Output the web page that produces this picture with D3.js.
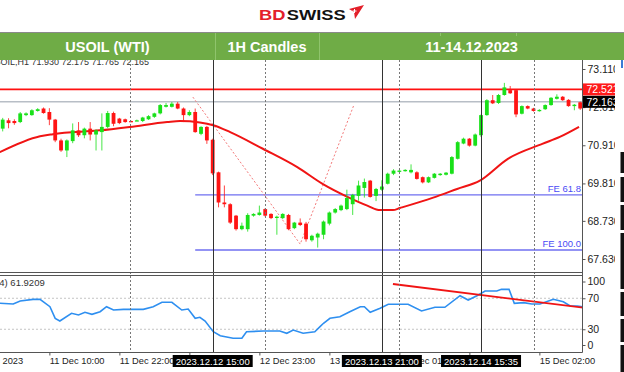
<!DOCTYPE html>
<html>
<head>
<meta charset="utf-8">
<script src="https://cdn.jsdelivr.net/npm/d3@7"></script>
<style>
  body { margin: 0; background: #fff; }
  svg { display: block; font-family: "Liberation Sans", Arial, sans-serif; }
</style>
</head>
<body>
<script>
/* Datos de velas (1H), indice 1..100 */
const open  = [71.39,71.63,71.61,71.58,71.78,71.78,71.90,71.97,71.87,71.65,71.05,70.76,71.03,71.34,71.20,71.39,71.22,71.29,71.44,71.84,
               71.68,71.66,71.61,71.62,71.61,71.66,71.73,71.83,72.02,72.02,72.11,71.97,71.78,71.87,71.24,71.44,71.07,70.13,69.26,69.21,
               68.88,68.49,68.49,68.88,68.90,69.07,68.93,68.82,68.81,68.90,68.52,68.68,68.65,68.17,68.25,68.33,68.65,68.97,69.04,69.07,
               69.21,69.45,69.68,69.89,69.45,69.63,69.80,70.09,70.15,70.17,70.13,70.13,69.99,69.84,69.97,70.05,70.06,70.09,70.52,70.96,
               71.10,70.90,71.20,71.78,72.21,72.13,72.36,72.50,72.50,71.82,72.04,71.97,71.90,71.95,72.07,72.25,72.31,72.22,72.04,72.15];
const high  = [71.70,71.69,71.66,71.87,71.86,71.95,71.98,72.00,71.98,71.67,71.10,71.08,71.54,71.58,71.42,71.58,71.37,71.83,71.90,71.88,
               71.70,71.68,71.62,71.65,71.73,71.78,71.85,72.10,72.13,72.16,72.16,72.00,71.92,71.97,71.46,71.47,71.10,70.15,69.75,69.24,
               68.90,68.68,68.95,68.95,69.17,69.10,68.95,68.88,68.95,68.93,68.70,68.80,68.70,68.33,68.39,68.74,69.00,69.10,69.20,69.63,
               69.51,69.89,69.95,69.91,69.68,69.90,70.12,70.22,70.20,70.22,70.36,70.16,70.01,70.01,70.11,70.11,70.14,70.60,71.03,71.13,
               71.12,71.25,71.80,72.24,72.36,72.39,72.71,72.62,72.52,72.06,72.06,71.99,71.95,72.09,72.30,72.38,72.33,72.24,72.10,72.17];
const low   = [71.31,71.40,71.50,71.55,71.75,71.76,71.88,71.82,71.49,71.00,70.72,70.57,70.97,71.15,71.11,71.05,70.76,70.76,71.40,71.46,
               71.52,71.56,71.58,71.61,71.58,71.64,71.70,71.80,72.00,72.00,71.95,71.58,71.75,71.27,71.20,70.95,70.05,69.12,69.12,68.64,
               68.45,68.46,68.42,68.85,68.88,68.85,68.78,68.33,68.78,68.46,68.49,68.58,68.13,68.13,67.96,68.20,68.60,68.94,69.01,69.04,
               68.90,69.31,69.40,69.40,69.30,69.60,69.78,70.05,70.12,70.15,70.10,69.92,69.81,69.82,69.95,70.03,70.04,70.07,70.50,70.94,
               70.87,70.88,71.15,71.76,72.10,72.10,72.34,72.39,71.72,71.80,71.95,71.88,71.88,71.93,72.05,72.23,72.19,72.02,71.92,71.93];
const close = [71.65,71.55,71.55,71.83,71.83,71.92,71.95,71.84,71.65,71.05,70.76,71.05,71.34,71.20,71.39,71.22,71.34,71.44,71.84,71.53,
               71.55,71.58,71.60,71.63,71.71,71.75,71.83,72.07,72.07,72.11,71.97,71.78,71.87,71.29,71.44,71.05,70.10,69.26,69.21,68.68,
               68.49,68.59,68.90,68.93,68.97,68.88,68.81,68.85,68.93,68.49,68.68,68.61,68.20,68.30,68.36,68.71,68.97,69.07,69.17,69.39,
               69.48,69.75,69.85,69.42,69.65,69.72,70.09,70.18,70.18,70.20,70.20,69.94,69.84,69.99,70.09,70.09,70.12,70.57,71.00,71.10,
               70.90,71.22,71.78,72.21,72.12,72.36,72.58,72.41,71.80,72.04,71.97,71.90,71.93,72.07,72.28,72.31,72.21,72.04,72.08,71.97];

/* Media movil */
const maIdx = [0.5, 7.4, 9.6, 17.7, 22.8, 29.2, 31.4, 34.8, 37.1, 40, 45.6, 51.5, 55.9, 60, 63.5, 65.7, 67.9, 69.1, 74.8, 78.9, 82.8, 87.6, 93.5, 96.5, 99.8];
const maVal = [70.71, 71.17, 71.23, 71.34, 71.44, 71.58, 71.61, 71.57, 71.49, 71.29, 70.81, 70.28, 69.79, 69.43, 69.17, 69.04, 69.04, 69.10, 69.40, 69.65, 69.89, 70.52, 70.95, 71.15, 71.44];

/* Oscilador (RSI 14) */
const rsiIdx = [0.5, 2.8, 4.0, 6.2, 7.4, 9.1, 10.0, 10.8, 12.8, 14.0, 15.1, 16.3, 17.7, 18.8, 20.0, 21.7, 25.1, 26.8, 28.3, 30.0,
                31.7, 32.8, 34.0, 34.8, 35.7, 37.1, 38.3, 40.5, 42.0, 42.8, 45.7, 48.5, 49.7, 50.8, 52.5, 54.5, 55.4, 56.0, 57.1, 58.8,
                60.5, 62.3, 63.0, 64.0, 65.7, 67.1, 70.5, 72.8, 75.1, 76.8, 79.4, 80.8, 82.3, 83.7, 85.7, 86.5, 87.8, 88.7, 90.3, 91.7,
                93.1, 95.4, 97.1, 98.3, 99.5, 100.6];
const rsiVal = [63.5, 62.6, 66.5, 68.6, 68.6, 59.1, 44.1, 40.6, 50.6, 48.4, 51.9, 49.3, 52.6, 59.1, 54.8, 55.7, 55.7, 59.1, 64.8, 64.8,
                54.8, 56.1, 44.1, 45.4, 40.6, 26.8, 21.7, 18.3, 18.3, 26.8, 27.7, 27.7, 24.8, 29.0, 24.8, 26.8, 33.3, 37.7, 44.1, 46.2,
                52.6, 59.1, 59.1, 51.9, 57.0, 62.2, 62.2, 53.6, 58.3, 58.3, 73.3, 67.7, 73.3, 79.4, 79.4, 81.5, 81.5, 63.5, 64.3, 62.6,
                62.6, 68.6, 65.5, 60.0, 60.0, 59.0];
const rsiTrendIdx = [67.9, 100.6];
const rsiTrendVal = [88.4, 57.8];

/* Niveles y herramientas */
const resistance = 72.521;
const bid = 72.163;
const feStart = 34.0;
const feLevels = [69.48, 67.89];
const feNames = ['FE 61.8', 'FE 100.0'];
const fiboIdx = [33.6, 52, 61.2];
const fiboVal = [72.30, 68.06, 72.07];

/* Ejes */
const priceTicks = [73.11, 72.01, 70.91, 69.81, 68.73, 67.63];
const rsiTicks = [100, 70, 30, 0];
const timeIdx = [-4.5, 9, 21, 33, 45, 57, 69, 81, 93];
const timeLabels = ['11 Dec 2023', '11 Dec 10:00', '11 Dec 22:00', '', '12 Dec 23:00', '13 Dec 11:00', '14 Dec 01:00', '', '15 Dec 02:00'];
const solidSep = [37, 66, 83];
const dottedSep = [22.8, 46, 69, 92];
const crossIdx = [37, 66, 83];
const crossLabels = ['2023.12.12 15:00', '2023.12.13 21:00', '2023.12.14 15:35'];

const headerCells = ['USOIL (WTI)', '1H Candles', '11-14.12.2023'];

const W = 624, H = 372;
const plotRight = 582.5;
const mainTop = 60, mainBottom = 272.5, rsiTop = 275.5, rsiBottom = 352.5;

const svg = d3.select('body').append('svg').attr('width', W).attr('height', H);
svg.append('rect').attr('width', W).attr('height', H).attr('fill', '#fff');

const defs = svg.append('defs');
defs.append('clipPath').attr('id', 'clipMain').append('rect')
  .attr('x', 0).attr('y', mainTop).attr('width', plotRight).attr('height', mainBottom - mainTop);
defs.append('clipPath').attr('id', 'clipRsi').append('rect')
  .attr('x', 0).attr('y', rsiTop).attr('width', plotRight).attr('height', rsiBottom - rsiTop);
defs.append('clipPath').attr('id', 'clipAxis').append('rect')
  .attr('x', 0).attr('y', 0).attr('width', 615).attr('height', H);

/* Escalas */
const x = d3.scaleLinear().domain([1, 100]).range([2.7, 580.2]);
const y = d3.scaleLinear().domain([67.63, 73.11]).range([259, 69]);
const yR = d3.scaleLinear().domain([0, 100]).range([rsiBottom, 275]);

/* Texto de cabecera del grafico (medio oculto) */
svg.append('text').attr('x', -12).attr('y', 65).attr('font-size', 9).attr('fill', '#333')
  .text('USOIL,H1  71.930 72.175 71.765 72.165');

const main = svg.append('g').attr('clip-path', 'url(#clipMain)');
const rsi = svg.append('g').attr('clip-path', 'url(#clipRsi)');

/* Separadores verticales */
const seps = svg.append('g');
seps.selectAll('.dsep').data(dottedSep).enter().append('line')
  .attr('x1', d => Math.round(x(d)) + 0.5).attr('x2', d => Math.round(x(d)) + 0.5)
  .attr('y1', mainTop).attr('y2', rsiBottom)
  .attr('stroke', '#777').attr('stroke-width', 1).attr('stroke-dasharray', '2,2');
seps.selectAll('.ssep').data(solidSep).enter().append('line')
  .attr('x1', d => Math.round(x(d)) + 0.5).attr('x2', d => Math.round(x(d)) + 0.5)
  .attr('y1', mainTop).attr('y2', rsiBottom)
  .attr('stroke', '#333').attr('stroke-width', 1);

/* Lineas horizontales */
main.append('line').attr('x1', 0).attr('x2', plotRight).attr('y1', y(bid)).attr('y2', y(bid))
  .attr('stroke', '#b8bec6').attr('stroke-width', 1.5);
main.append('line').attr('x1', 0).attr('x2', plotRight).attr('y1', y(resistance)).attr('y2', y(resistance))
  .attr('stroke', '#ff1010').attr('stroke-width', 1.6);

main.selectAll('.fe').data(feLevels).enter().append('line')
  .attr('x1', x(feStart)).attr('x2', plotRight)
  .attr('y1', d => y(d)).attr('y2', d => y(d))
  .attr('stroke', '#6f6ff0').attr('stroke-width', 1.4);
main.selectAll('.fet').data(feLevels).enter().append('text')
  .attr('x', 581).attr('y', d => y(d) - 2.5)
  .attr('text-anchor', 'end').attr('font-size', 9.5).attr('fill', '#4a4af5')
  .text((d, i) => feNames[i]);

/* Expansion de Fibonacci (discontinua) */
const fiboLine = d3.line().x((d, i) => x(fiboIdx[i])).y(d => y(d));
main.append('path').attr('d', fiboLine(fiboVal))
  .attr('fill', 'none').attr('stroke', '#f27a7a').attr('stroke-width', 1).attr('stroke-dasharray', '2,2');

/* Media movil */
const maLine = d3.line().x((d, i) => x(maIdx[i])).y(d => y(d)).curve(d3.curveMonotoneX);
main.append('path').attr('d', maLine(maVal))
  .attr('fill', 'none').attr('stroke', '#f01414').attr('stroke-width', 2);

/* Velas */
const candles = d3.range(open.length);
const col = i => close[i] >= open[i] ? '#19e019' : '#ff1414';
main.selectAll('.wick').data(candles).enter().append('line')
  .attr('x1', i => x(i + 1)).attr('x2', i => x(i + 1))
  .attr('y1', i => y(high[i])).attr('y2', i => y(low[i]))
  .attr('stroke', col).attr('stroke-width', 1).attr('stroke-opacity', 0.8);
main.selectAll('.body').data(candles).enter().append('rect')
  .attr('x', i => x(i + 1) - 1.9).attr('width', 3.8)
  .attr('y', i => y(Math.max(open[i], close[i])))
  .attr('height', i => Math.max(1.3, Math.abs(y(open[i]) - y(close[i]))))
  .attr('fill', col);

/* Panel del oscilador */
rsi.selectAll('.lvl').data([70, 30]).enter().append('line')
  .attr('x1', 0).attr('x2', plotRight).attr('y1', d => yR(d)).attr('y2', d => yR(d))
  .attr('stroke', '#c4c4c4').attr('stroke-width', 1).attr('stroke-dasharray', '2,2');
const rsiLine = d3.line().x((d, i) => x(rsiIdx[i])).y(d => yR(d));
rsi.append('path').attr('d', rsiLine(rsiVal))
  .attr('fill', 'none').attr('stroke', '#2e8ff0').attr('stroke-width', 1.6);
const trendLine = d3.line().x((d, i) => x(rsiTrendIdx[i])).y(d => yR(d));
rsi.append('path').attr('d', trendLine(rsiTrendVal))
  .attr('fill', 'none').attr('stroke', '#f01414').attr('stroke-width', 1.8);
svg.append('text').attr('x', -25).attr('y', 286).attr('font-size', 9.5).attr('fill', '#333')
  .text('RSI(14) 61.9209');

/* Marcos */
const frame = svg.append('g').attr('stroke', '#555').attr('stroke-width', 1);
frame.append('line').attr('x1', 0).attr('x2', plotRight).attr('y1', mainBottom).attr('y2', mainBottom);
frame.append('line').attr('x1', 0).attr('x2', plotRight).attr('y1', rsiTop).attr('y2', rsiTop);
frame.append('line').attr('x1', 0).attr('x2', plotRight).attr('y1', rsiBottom).attr('y2', rsiBottom);
frame.append('line').attr('x1', plotRight).attr('x2', plotRight).attr('y1', mainTop).attr('y2', rsiBottom);

/* Ejes */
const axes = svg.append('g').attr('clip-path', 'url(#clipAxis)');
const yAxis = axes.append('g').attr('transform', `translate(${plotRight},0)`)
  .call(d3.axisRight(y).tickValues(priceTicks).tickFormat(d3.format('.3f')).tickSize(3).tickPadding(2));
const rAxis = axes.append('g').attr('transform', `translate(${plotRight},0)`)
  .call(d3.axisRight(yR).tickValues(rsiTicks).tickSize(3).tickPadding(2));
rAxis.selectAll('.tick').filter(d => d === 100).attr('transform', `translate(0,${yR(100) + 7})`);
rAxis.selectAll('.tick').filter(d => d === 0).attr('transform', `translate(0,${yR(0) - 7})`);
const xAxis = axes.append('g').attr('transform', `translate(0,${rsiBottom})`)
  .call(d3.axisBottom(x).tickValues(timeIdx).tickFormat((d, i) => timeLabels[i]).tickSize(3).tickPadding(2));
xAxis.selectAll('text').attr('text-anchor', 'start');
[yAxis, rAxis].forEach(a => a.selectAll('text').attr('font-size', 10.5));
xAxis.selectAll('text').attr('font-size', 9.3);
[yAxis, rAxis, xAxis].forEach(a => {
  a.select('.domain').remove();
  a.selectAll('text').attr('fill', '#222').attr('font-family', '"Liberation Sans", Arial, sans-serif');
  a.selectAll('line').attr('stroke', '#555');
});

/* Etiquetas de precio a la derecha */
const tags = axes.append('g');
[[resistance, '#ff1a1a'], [bid, '#000']].forEach(([v, c]) => {
  tags.append('rect').attr('x', 583).attr('y', y(v) - 6).attr('width', 34).attr('height', 12).attr('fill', c);
  tags.append('text').attr('x', 586.5).attr('y', y(v) + 3.8).attr('font-size', 10.5).attr('fill', '#fff')
    .text(d3.format('.3f')(v));
});

/* Etiquetas de cruz (fechas) */
const cross = svg.append('g');
crossIdx.forEach((d, i) => {
  const cx = x(d);
  cross.append('rect').attr('x', cx - 40).attr('y', 355).attr('width', 80).attr('height', 12).attr('fill', '#000');
  cross.append('text').attr('x', cx).attr('y', 364.5).attr('text-anchor', 'middle')
    .attr('font-size', 9.5).attr('fill', '#fff').text(crossLabels[i]);
});

/* Borde derecho (recorte de pantalla) */
const edge = svg.append('g');
edge.append('rect').attr('x', 621).attr('y', 58).attr('width', 2).attr('height', 10).attr('fill', '#3a7bd5');
[[152, 173], [177, 202], [205, 230], [233, 289], [292, 316], [319, 342], [345, 372]].forEach(([a, b]) => {
  edge.append('rect').attr('x', 620.5).attr('y', a).attr('width', 3.5).attr('height', b - a).attr('fill', '#111');
});

/* Cabecera verde */
const header = svg.append('g');
header.append('rect').attr('x', 0).attr('y', 32).attr('width', W).attr('height', 28).attr('fill', '#6fac46');
header.append('line').attr('x1', 0).attr('x2', W).attr('y1', 32.5).attr('y2', 32.5).attr('stroke', '#8a8a8a');
const cellX = [0, 215, 319, W];
[215, 319, 440, 516].forEach(v => {
  header.append('line').attr('x1', v + 0.5).attr('x2', v + 0.5).attr('y1', 33).attr('y2', v < 400 ? 60 : 36)
    .attr('stroke', '#8fc46c').attr('stroke-width', 1);
});
headerCells.forEach((t, i) => {
  header.append('text').attr('x', (cellX[i] + cellX[i + 1]) / 2).attr('y', 51.5)
    .attr('text-anchor', 'middle').attr('font-size', 14.5).attr('font-weight', 'bold')
    .attr('fill', '#fff').text(t);
});

/* Logo */
const logo = svg.append('g').attr('transform', 'translate(259,19.5) scale(1.18,1)')
  .attr('font-weight', 'bold').attr('font-size', 15.5);
logo.append('text').attr('x', 0).attr('y', 0).attr('fill', '#e3202a').text('BD');
logo.append('text').attr('x', 23.5).attr('y', 0).attr('fill', '#111').text('SWISS');
svg.append('path').attr('d', 'M349,9 L364,5 L355,19 L354,12 Z').attr('fill', '#e3202a');
svg.append('path').attr('d', 'M352.5,11 h4 M354.5,9 v4').attr('stroke', '#fff').attr('stroke-width', 1);
</script>
</body>
</html>
